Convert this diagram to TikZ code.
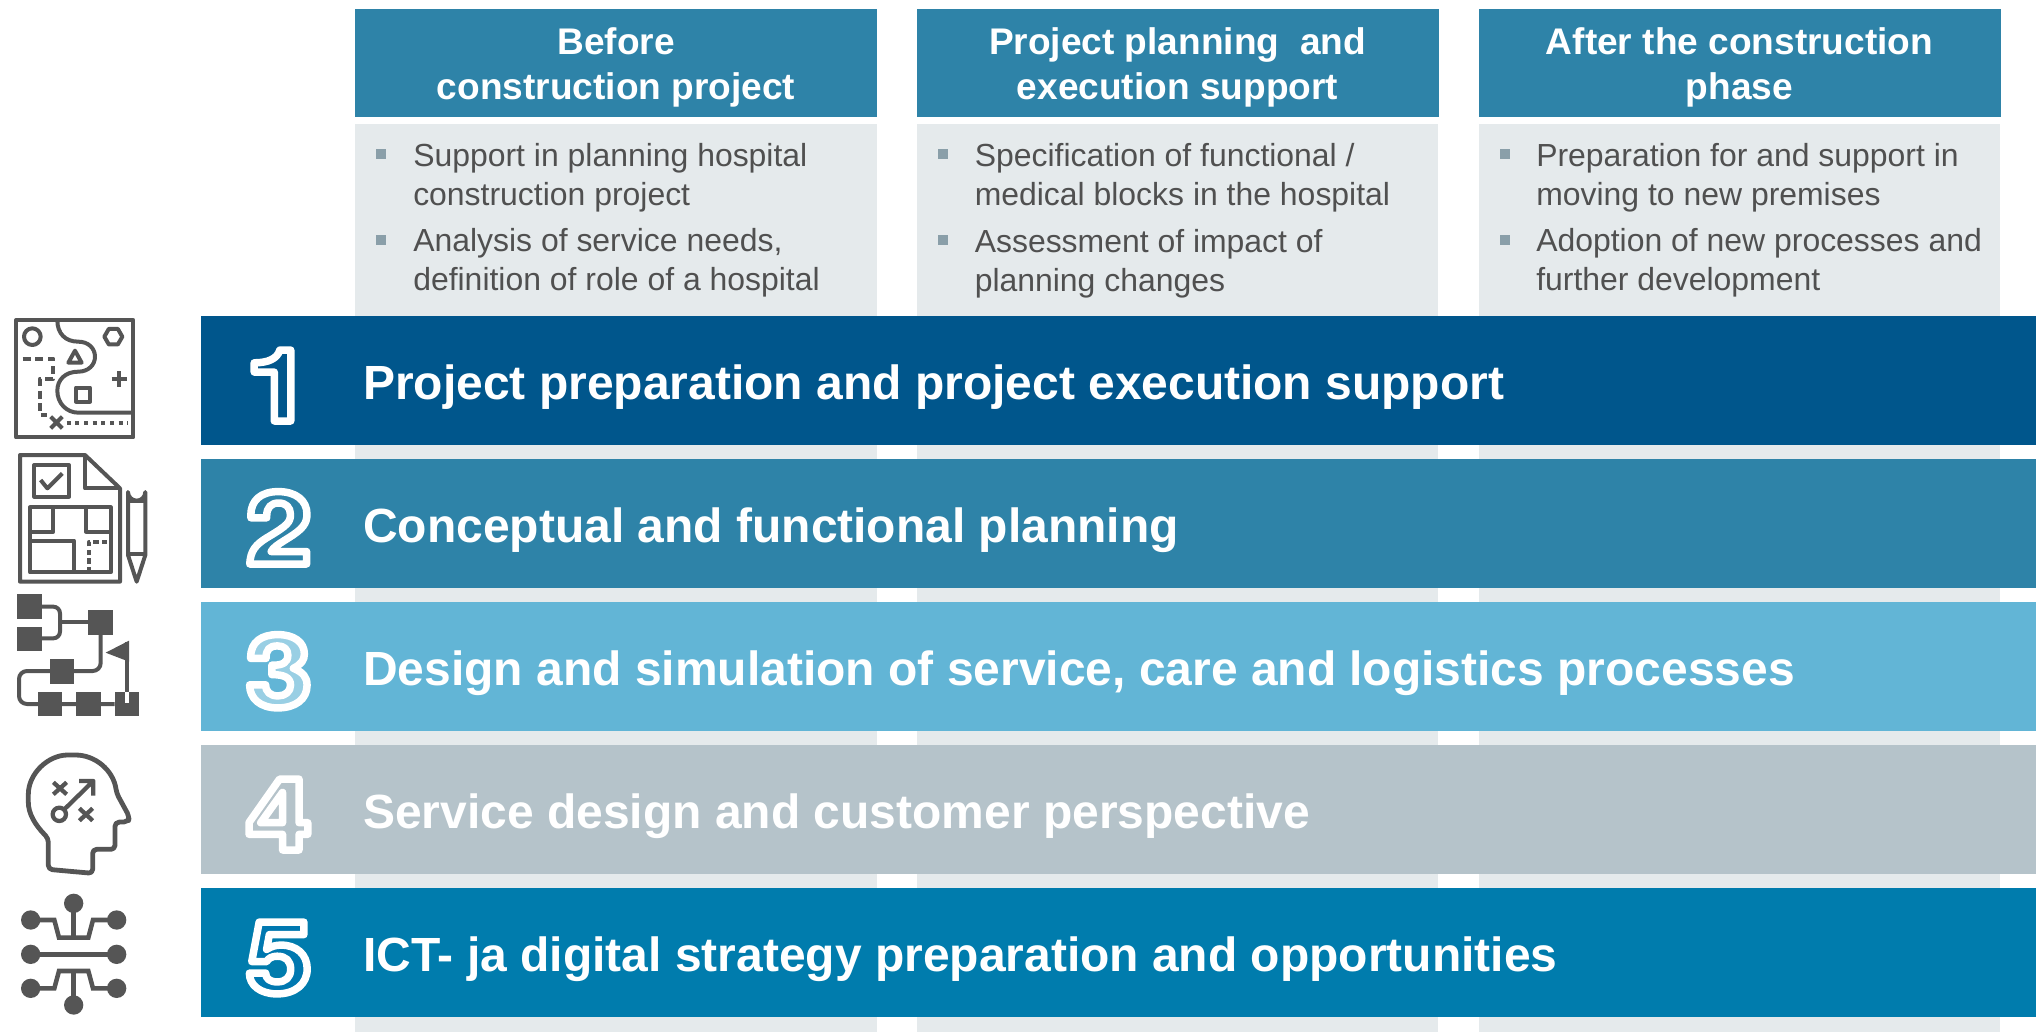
\documentclass[tikz,border=0pt]{standalone}
\usepackage{fontspec}
\setmainfont{Liberation Sans}
\newfontfamily\digitfont[FakeStretch=1.18]{TeX Gyre Heros}
\definecolor{hdr}{HTML}{2E83A8}
\definecolor{colgrey}{HTML}{E5EAEC}
\definecolor{bulletc}{HTML}{8A9FA9}
\definecolor{bodyc}{HTML}{505050}
\definecolor{iconc}{HTML}{555555}
\definecolor{barA}{HTML}{00568C}
\definecolor{barB}{HTML}{2E83A8}
\definecolor{barC}{HTML}{62B5D6}
\definecolor{barD}{HTML}{B5C3CA}
\definecolor{barE}{HTML}{007CAD}
\definecolor{digC}{HTML}{99CFE4}
\definecolor{digE}{HTML}{0078B0}
\newcommand{\outlined}[1]{\special{pdf:code q 2 Tr 5.6 w 1 1 1 RG 1 J 1 j}#1\special{pdf:code Q}}
\tikzset{
 headbox/.style={fill=hdr,draw=none,inner sep=0,minimum width=522*0.75pt,minimum height=108*0.75pt},
 headline/.style={text=white,inner sep=0,anchor=base,font=\bfseries\fontsize{27.8pt}{33.75pt}\selectfont},
 colbox/.style={fill=colgrey,draw=none},
 bartext/.style={text=white,inner sep=0,anchor=base west,font=\bfseries\fontsize{35.98pt}{40pt}\selectfont},
 bodyline/.style={text=bodyc,inner sep=0,anchor=base west,font=\fontsize{23.95pt}{28pt}\selectfont},
 bulletbox/.style={fill=bulletc,draw=none,minimum size=7.5pt,inner sep=0},
 digit/.style={inner sep=0,anchor=base,font=\digitfont\bfseries\fontsize{75pt}{75pt}\selectfont},
 ic/.style={draw=iconc,line width=3pt,line cap=butt,line join=round},
 icf/.style={fill=iconc,draw=none},
}
\begin{document}
\begin{tikzpicture}[x=0.75pt,y=-0.75pt]
\useasboundingbox (0,0) rectangle (2036,1032);
% columns
\foreach \n/\a/\b in {a/355/877,b/917/1438,c/1479/2000}{
  \fill[colbox] (\a,124) rectangle (\b,1032);
}
\node[headbox] (h1) at (616,62.5) {};
\node[headbox] (h2) at (1177.5,62.5) {};
\node[headbox] (h3) at (1739.5,62.5) {};
\node[headline] (h11) at (616,54.5) {Before};
\node[headline] (h12) at (616,99.5) {construction project};
\node[headline] (h21) at (1177.5,54.5) {Project planning~ and};
\node[headline] (h22) at (1177.5,99.5) {execution support};
\node[headline] (h31) at (1739.5,54.5) {After the construction};
\node[headline] (h32) at (1739.5,99.5) {phase};
% bullets
\foreach \x/\n in {381/a,943/b,1504.5/c}{
  \node[bulletbox] (bu\n1) at (\x,154) {};
  \node[bulletbox] (bu\n2) at (\x,239.5) {};
}
\node[bodyline] (t11) at (413,166) {Support in planning hospital};
\node[bodyline] (t12) at (413,205) {construction project};
\node[bodyline] (t13) at (413,251) {Analysis of service needs,};
\node[bodyline] (t14) at (413,290) {definition of role of a hospital};
\node[bodyline] (t21) at (974.5,166) {Specification of functional /};
\node[bodyline] (t22) at (974.5,205) {medical blocks in the hospital};
\node[bodyline] (t23) at (974.5,252) {Assessment of impact of};
\node[bodyline] (t24) at (974.5,291) {planning changes};
\node[bodyline] (t31) at (1536,166) {Preparation for and support in};
\node[bodyline] (t32) at (1536,205) {moving to new premises};
\node[bodyline] (t33) at (1536,251) {Adoption of new processes and};
\node[bodyline] (t34) at (1536,290) {further development};
% bars
\fill[barA] (201,316) rectangle (2036,445);
\fill[barB] (201,459) rectangle (2036,588);
\fill[barC] (201,602) rectangle (2036,731);
\fill[barD] (201,745) rectangle (2036,874);
\fill[barE] (201,888) rectangle (2036,1017);
\node[bartext] (b1) at (363,399) {Project preparation and project execution support};
\node[bartext] (b2) at (363,542) {Conceptual and functional planning};
\node[bartext] (b3) at (363,685) {Design and simulation of service, care and logistics processes};
\node[bartext] (b4) at (363,828) {Service design and customer perspective};
\node[bartext] (b5) at (363,971) {ICT- ja digital strategy preparation and opportunities};
\node[digit,text=barA] (d1) at (279,421) {\outlined{1}};
\node[digit,text=barB] (d2) at (279,564) {\outlined{2}};
\node[digit,text=digC] (d3) at (279,707) {\outlined{3}};
\node[digit,text=barD] (d4) at (279,850) {\outlined{4}};
\node[digit,text=digE] (d5) at (279,993) {\outlined{5}};
% icon 1
\begin{scope}[shift={(0,300)},x=0.25pt,y=-0.25pt]
\draw[ic] (48,60) rectangle (400,412);
\draw[ic] (97,110) circle (25);
\draw[ic] (367,110) -- (353.5,133.4) -- (326.5,133.4) -- (313,110) -- (326.5,86.6) -- (353.5,86.6) -- cycle;
\draw[ic] (172,60) .. controls (172,100) and (195,125) .. (235,125) .. controls (265,125) and (285,145) .. (285,170) .. controls (285,195) and (265,215) .. (235,215) .. controls (195,215) and (172,240) .. (172,272) .. controls (172,310) and (200,338) .. (235,338) -- (400,338);
\draw[ic] (225,152) -- (205,188) -- (245,188) -- cycle;
\draw[ic,dash pattern=on 6pt off 3.5pt] (68,176) -- (160,176) -- (160,236) -- (120,236) -- (120,345) -- (140,345);
\draw[ic] (228,263) rectangle (270,305);
\draw[ic] (335,237) -- (381,237) (358,214) -- (358,260);
\draw[ic] (152,350) -- (187,385) (187,350) -- (152,385);
\draw[ic,dash pattern=on 3pt off 3.5pt] (200,368) -- (385,368);
\end{scope}
% icon 2
\begin{scope}[shift={(0,300)},x=0.25pt,y=-0.25pt]
\draw[ic] (60,465) -- (255,465) -- (360,565) -- (360,845) -- (60,845) -- cycle;
\draw[ic] (255,465) -- (255,565) -- (360,565);
\draw[ic] (103,495) rectangle (207,590);
\draw[ic] (122,540) -- (142,565) -- (187,520);
\draw[ic] (90,622) rectangle (332,817);
\draw[ic] (160,622) -- (160,695) -- (90,695);
\draw[ic] (258,622) -- (258,695) -- (332,695);
\draw[ic] (90,722) -- (222,722) -- (222,817);
\draw[ic,dash pattern=on 4pt off 2.5pt] (268,817) -- (268,725) -- (332,725);
\draw[ic] (384,765) -- (384,576) arc (180:0:26) -- (436,765) -- (410,845) -- cycle;
\draw[ic] (384,602) -- (436,602) (384,762) -- (436,762);
\end{scope}
% icon 3
\begin{scope}[shift={(0,590)},x=0.25pt,y=-0.25pt]
\foreach \p/\q in {52/13,52/110,265/61,150/208,113/305,229/305,344/305}{
  \fill[icf] (\p,\q) rectangle ++(73,73);
}
\draw[ic,rounded corners=5pt] (125,50) -- (180,50) -- (180,145) -- (125,145);
\draw[ic] (180,97) -- (265,97);
\draw[ic,rounded corners=6pt] (302,134) -- (302,243) -- (57,243) -- (57,342) -- (344,342);
\draw[ic] (381,155) -- (381,305);
\draw[white,line width=3pt] (381,305) -- (381,340);
\fill[icf] (387,152) -- (317,188) -- (387,215) -- cycle;
\end{scope}
% icon 4
\begin{scope}[shift={(0,590)},x=0.25pt,y=-0.25pt]
\draw[ic,line width=3.6pt,rounded corners=3pt] (145,838) -- (145,745) .. controls (105,705) and (85,670) .. (85,625) .. controls (85,550) and (145,495) .. (215,495) .. controls (285,495) and (340,540) .. (350,610) -- (388,680) -- (385,695) -- (345,697) -- (345,778) -- (278,778) -- (278,850) -- cycle;
\draw[ic,line width=3.2pt] (160,577) -- (200,613) (200,577) -- (160,613) (238,655) -- (278,692) (278,655) -- (238,692);
\draw[ic,line width=3.2pt] (178,673) circle (20);
\draw[ic,line width=3.2pt] (193,658) -- (280,573) (237,573) -- (280,573) -- (280,617);
\end{scope}
% icon 5
\begin{scope}[shift={(0,590)},x=0.25pt,y=-0.25pt]
\foreach \p/\q in {221/940,92/990,350/990,92/1093,350/1093,92/1195,350/1195,221/1245}{
  \fill[icf] (\p,\q) circle (29);
}
\draw[ic,line width=3.4pt,line join=miter] (92,990) -- (163,990) -- (177,1043) -- (265,1043) -- (279,990) -- (350,990);
\draw[ic,line width=3.4pt] (92,1093) -- (350,1093);
\draw[ic,line width=3.4pt,line join=miter] (92,1195) -- (163,1195) -- (177,1143) -- (265,1143) -- (279,1195) -- (350,1195);
\draw[ic,line width=3.4pt] (221,940) -- (221,1043) (221,1143) -- (221,1245);
\end{scope}
\end{tikzpicture}
\end{document}
